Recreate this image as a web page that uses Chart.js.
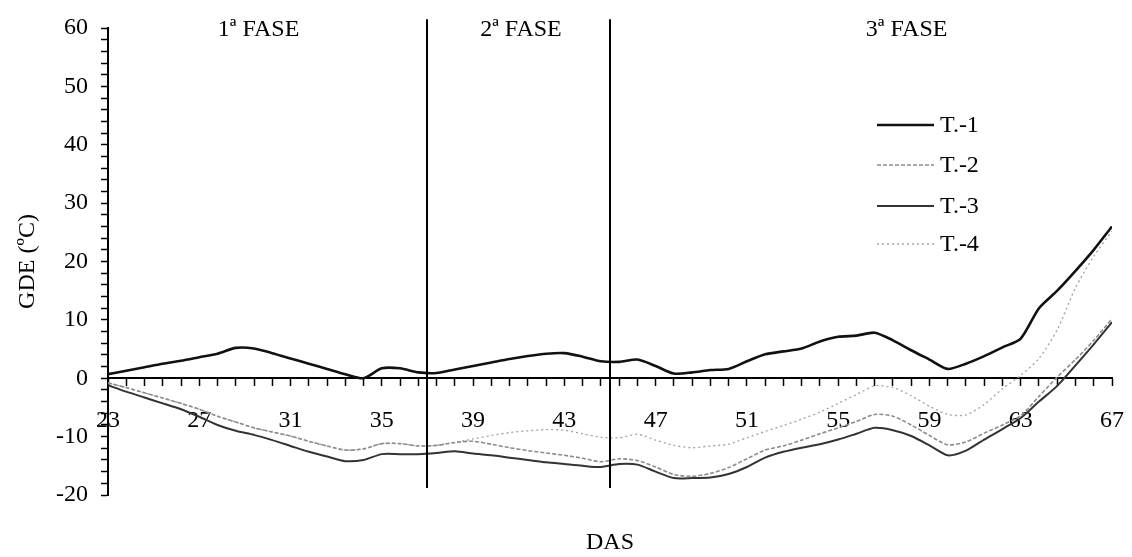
<!DOCTYPE html>
<html>
<head>
<meta charset="utf-8">
<title>GDE x DAS</title>
<script src="https://cdn.jsdelivr.net/npm/chart.js@4.4.1/dist/chart.umd.min.js"></script>
<style>
  html, body { margin: 0; padding: 0; background: #fff; }
  #wrap { width: 1132px; height: 557px; position: relative; }
</style>
</head>
<body>
<div id="wrap"><canvas id="gde-chart"></canvas></div>
<script>
// DAS readings (one every 0.8 day, 5 ticks per 4 days on the axis)
const days = [
  23, 23.8, 24.6, 25.4, 26.2, 27, 27.8, 28.6, 29.4, 30.2,
  31, 31.8, 32.6, 33.4, 34.2, 35, 35.8, 36.6, 37.4, 38.2,
  39, 39.8, 40.6, 41.4, 42.2, 43, 43.8, 44.6, 45.4, 46.2,
  47, 47.8, 48.6, 49.4, 50.2, 51, 51.8, 52.6, 53.4, 54.2,
  55, 55.8, 56.6, 57.4, 58.2, 59, 59.8, 60.6, 61.4, 62.2,
  63, 63.8, 64.6, 65.4, 66.2, 67
];
const xTickLabels = [23, 27, 31, 35, 39, 43, 47, 51, 55, 59, 63, 67];
const yTickLabels = [-20, -10, 0, 10, 20, 30, 40, 50, 60];

const seriesNames = ['T.-1', 'T.-2', 'T.-3', 'T.-4'];

const t1 = [
  0.7, 1.3, 1.9, 2.5, 3.0, 3.6, 4.2, 5.2, 5.1, 4.3,
  3.4, 2.5, 1.6, 0.7, 0.0, 1.7, 1.7, 1.0, 0.9, 1.5,
  2.1, 2.7, 3.3, 3.8, 4.2, 4.3, 3.7, 2.9, 2.8, 3.2,
  2.1, 0.8, 1.0, 1.4, 1.6, 2.9, 4.1, 4.6, 5.1, 6.3,
  7.1, 7.3, 7.8, 6.5, 4.8, 3.2, 1.6, 2.5, 3.8, 5.3,
  6.8, 12.0, 15.0, 18.4, 22.0, 26.0
];
const t2 = [
  -0.8, -1.6, -2.5, -3.4, -4.3, -5.3, -6.5, -7.5, -8.5, -9.2,
  -9.9, -10.8, -11.6, -12.3, -12.1, -11.2, -11.2, -11.6, -11.5, -11.0,
  -10.8, -11.3, -11.9, -12.4, -12.8, -13.2, -13.7, -14.3, -13.8, -14.1,
  -15.2, -16.5, -16.8, -16.3, -15.3, -13.8, -12.3, -11.6, -10.6, -9.5,
  -8.5, -7.4, -6.2, -6.5, -8.0, -9.8, -11.4, -10.9, -9.4, -8.0,
  -6.4, -3.1, 0.2, 3.2, 6.5, 10.2
];
const t3 = [
  -1.2, -2.3, -3.3, -4.3, -5.3, -6.6, -8.0, -9.0, -9.7, -10.6,
  -11.6, -12.6, -13.4, -14.2, -14.0, -13.0, -13.0, -13.0, -12.8, -12.5,
  -12.9, -13.2, -13.6, -14.0, -14.4, -14.7, -15.0, -15.2, -14.7, -14.8,
  -16.0, -17.1, -17.1, -17.0, -16.4, -15.2, -13.6, -12.6, -11.9, -11.3,
  -10.5, -9.5, -8.5, -8.9, -9.9, -11.5, -13.2, -12.4, -10.5, -8.7,
  -6.8, -4.0, -1.3, 2.2, 5.8, 9.6
];
const t4 = [
  -0.8, -1.6, -2.5, -3.4, -4.3, -5.3, -6.5, -7.5, -8.5, -9.2,
  -9.9, -10.8, -11.6, -12.3, -12.1, -11.2, -11.2, -11.6, -11.5, -11.0,
  -10.4, -9.8, -9.3, -9.0, -8.8, -8.9, -9.5, -10.1, -10.2, -9.6,
  -10.6, -11.5, -11.9, -11.6, -11.3, -10.2, -9.1, -8.1, -7.0, -5.8,
  -4.3, -2.8, -1.3, -1.6, -3.0, -4.8, -6.2, -6.3, -4.5, -1.8,
  0.5, 3.4, 8.3, 15.5, 20.9, 25.2
];

const phaseNames = ['1ª FASE', '2ª FASE', '3ª FASE'];
const phaseLabelDays = [29.6, 41.1, 58.0];
const phaseLimits = [37, 45];

const FONT = "'Liberation Serif', 'Times New Roman', serif";

// phase dividers, phase names, legend and x title
const overlay = {
  id: 'overlay',
  afterDatasetsDraw(chart) {
    const { ctx, chartArea, scales: { x, y } } = chart;
    ctx.save();

    ctx.strokeStyle = '#000';
    ctx.lineWidth = 2;
    phaseLimits.forEach(d => {
      const px = Math.round(x.getPixelForValue(d));
      ctx.beginPath();
      ctx.moveTo(px, y.getPixelForValue(61.5));
      ctx.lineTo(px, y.getPixelForValue(-18.8));
      ctx.stroke();
    });

    ctx.fillStyle = '#000';
    ctx.font = '24px ' + FONT;
    ctx.textAlign = 'center';
    ctx.textBaseline = 'middle';
    phaseNames.forEach((name, i) => {
      ctx.fillText(name, x.getPixelForValue(phaseLabelDays[i]), 30);
    });

    ctx.fillText('DAS', (chartArea.left + chartArea.right) / 2, 543);

    // legend
    const rows = [125, 165, 206, 244];
    chart.data.datasets.forEach((ds, i) => {
      ctx.strokeStyle = ds.borderColor;
      ctx.lineWidth = ds.borderWidth;
      ctx.setLineDash(ds.borderDash || []);
      ctx.beginPath();
      ctx.moveTo(877, rows[i]);
      ctx.lineTo(934, rows[i]);
      ctx.stroke();
      ctx.setLineDash([]);
      ctx.textAlign = 'left';
      ctx.fillText(ds.label, 940, rows[i] + 1);
    });

    ctx.restore();
  }
};

function line(label, data, color, width, dash) {
  return {
    label,
    data,
    borderColor: color,
    borderWidth: width,
    borderDash: dash,
    pointRadius: 0,
    tension: 0.25,
    fill: false
  };
}

new Chart(document.getElementById('gde-chart'), {
  type: 'line',
  data: {
    labels: days,
    datasets: [
      line(seriesNames[0], t1, '#111', 2.6, []),
      line(seriesNames[1], t2, '#8c8c8c', 1.6, [4, 2]),
      line(seriesNames[2], t3, '#333', 2, []),
      line(seriesNames[3], t4, '#a6a6a6', 1.4, [2, 3])
    ]
  },
  plugins: [overlay],
  options: {
    responsive: true,
    maintainAspectRatio: false,
    animation: false,
    layout: { padding: { top: 28, right: 20, bottom: 62, left: 0 } },
    plugins: {
      legend: { display: false },
      tooltip: { enabled: false }
    },
    scales: {
      x: {
        type: 'linear',
        position: { y: 0 },
        min: 23,
        max: 67,
        // labels sit low under the axis; keep that gap out of the side padding
        afterFit: (scale) => { scale.paddingLeft = 0; scale.paddingRight = 0; },
        grid: { drawOnChartArea: false, drawTicks: true, tickLength: 7, tickColor: '#000', tickWidth: 1.5 },
        border: { display: true, color: '#000', width: 2 },
        ticks: {
          stepSize: 0.8,
          autoSkip: false,
          maxRotation: 0,
          padding: 21,
          color: '#000',
          font: { family: FONT, size: 24 },
          callback: (v) => {
            const d = Math.round(v);
            return Math.abs(v - d) < 0.01 && xTickLabels.includes(d) ? String(d) : '';
          }
        }
      },
      y: {
        min: -20,
        max: 60,
        afterFit: (scale) => { scale.width = 108; },
        grid: { drawOnChartArea: false, drawTicks: true, tickLength: 7, tickColor: '#000', tickWidth: 1.5 },
        border: { display: true, color: '#000', width: 2 },
        title: {
          display: true,
          text: 'GDE (ºC)',
          color: '#000',
          font: { family: FONT, size: 24 },
          padding: { top: 13, bottom: 0 }
        },
        ticks: {
          stepSize: 2,
          autoSkip: false,
          padding: 13,
          color: '#000',
          font: { family: FONT, size: 24 },
          callback: (v) => yTickLabels.includes(v) ? String(v) : ''
        }
      }
    }
  }
});
</script>
</body>
</html>
